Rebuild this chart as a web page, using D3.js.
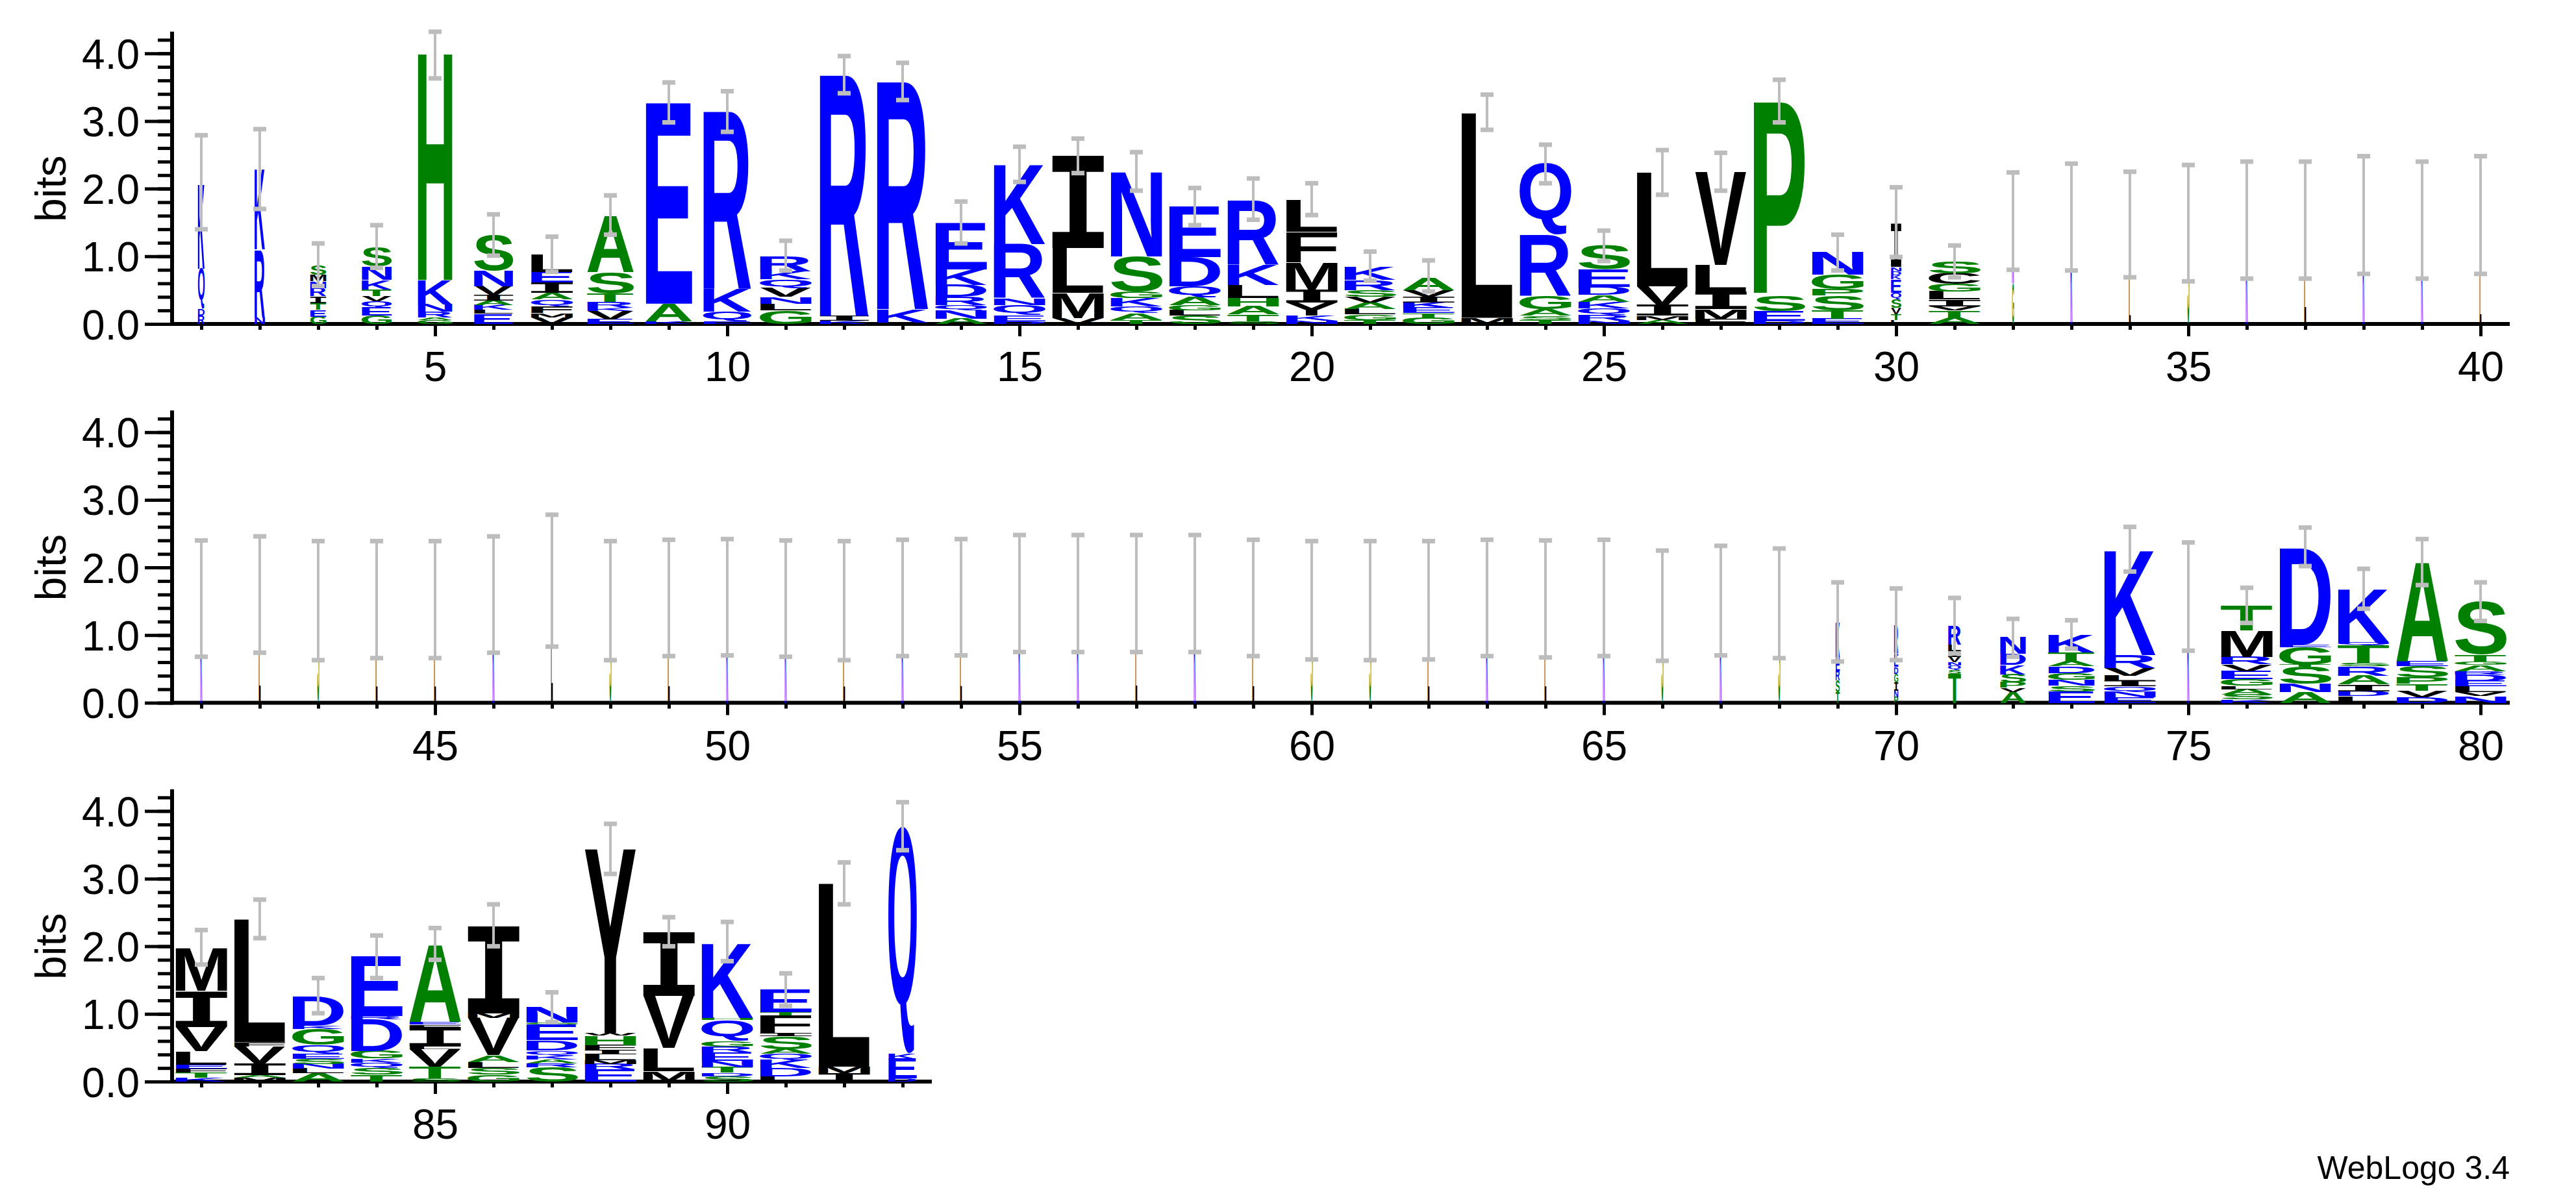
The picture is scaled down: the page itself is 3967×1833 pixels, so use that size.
<!DOCTYPE html>
<html><head><meta charset="utf-8">
<script src="https://cdn.jsdelivr.net/npm/d3@7"></script>
<style>body{margin:0;background:#fff}svg{display:block}</style>
</head><body>
<script>
// ---- data (bottom-to-top letter:bits per position) ----
const positions = d3.range(1, 94);
const stacks = [
"R:0.12 D:0.1 Q:0.6 K:1.26","N:0.1 R:1.0 K:1.2","G:0.11 E:0.1 T:0.1 I:0.1 R:0.12 N:0.1 M:0.1 S:0.14",
"G:0.12 E:0.12 Q:0.1 V:0.07 T:0.1 K:0.14 N:0.2 S:0.29","G:0.06 A:0.04 R:0.08 N:0.11 K:0.36 H:3.39",
"E:0.15 L:0.06 K:0.07 A:0.07 I:0.08 V:0.13 N:0.23 S:0.53","V:0.1 M:0.06 F:0.1 Q:0.1 A:0.1 I:0.15 E:0.16 L:0.26",
"E:0.07 V:0.12 K:0.05 R:0.09 T:0.12 S:0.32 A:0.84","K:0.04 A:0.26 E:2.97","E:0.04 Q:0.14 K:0.34 R:2.62",
"G:0.2 L:0.1 N:0.1 V:0.13 Q:0.13 K:0.12 R:0.22","K:0.05 I:0.07 R:3.56","E:0.02 K:0.2 R:3.36",
"A:0.08 N:0.12 Q:0.08 R:0.12 D:0.18 K:0.23 E:0.69","D:0.04 E:0.09 Q:0.15 N:0.1 R:0.8 K:1.18",
"V:0.09 M:0.37 L:0.66 I:1.36","T:0.06 A:0.1 Q:0.1 K:0.12 G:0.1 S:0.52 N:1.26",
"S:0.12 L:0.08 G:0.08 A:0.12 Q:0.16 D:0.43 E:0.75","S:0.04 T:0.1 A:0.12 H:0.12 L:0.2 K:0.3 R:0.95",
"N:0.05 K:0.07 Y:0.2 I:0.19 M:0.4 F:0.45 L:0.47","T:0.06 G:0.08 L:0.08 A:0.1 V:0.08 S:0.1 R:0.15 K:0.2",
"G:0.1 T:0.06 E:0.08 K:0.08 I:0.08 V:0.1 A:0.19","M:0.09 L:3.03","T:0.06 S:0.06 A:0.1 G:0.2 R:0.9 Q:1.06",
"N:0.05 R:0.08 Q:0.1 K:0.1 A:0.1 D:0.12 E:0.26 S:0.35","A:0.06 M:0.06 I:0.16 V:0.28 L:1.69",
"F:0.07 M:0.15 I:0.26 L:0.39 V:1.38","D:0.05 E:0.14 S:0.23 P:2.86","E:0.08 T:0.12 S:0.22 P:0.1 G:0.21 N:0.34",
"L:0.06 T:0.08 V:0.1 S:0.12 Q:0.1 E:0.2 K:0.06 D:0.06 N:0.06 I:0.64","A:0.1 T:0.1 V:0.06 I:0.1 L:0.12 G:0.11 C:0.16 S:0.18",
"G:0.6 K:0.94","K:1.6","L:0.8 K:0.68","S:1.5","K:1.55","L:1.55","K:1.62","K:1.55","L:0.9 K:0.72",
"K:1.53","L:1.6","S:1.51","L:1.51","L:1.51","K:1.6","L:1.81","S:1.51","L:1.55","K:1.56","K:1.53","L:1.51","K:1.55",
"L:1.56","K:1.61","K:1.61","L:1.61","K:1.61","L:1.55","S:1.52","S:1.51","L:1.52","K:1.55","L:1.53","K:1.55",
"S:1.44","K:1.51","S:1.47",
"T:0.16 S:0.17 R:0.14 E:0.2 K:0.52","P:0.08 N:0.1 I:0.12 G:0.13 D:0.1 E:0.2 R:0.42",
"T:0.43 S:0.06 Q:0.06 N:0.05 V:0.08 I:0.08 L:0.1 R:0.28","A:0.16 V:0.06 P:0.08 S:0.12 K:0.14 D:0.16 N:0.25",
"E:0.17 S:0.08 N:0.09 G:0.1 D:0.1 A:0.07 T:0.13 K:0.26","E:0.08 N:0.08 Q:0.08 I:0.08 L:0.08 V:0.11 R:0.2 K:1.56",
"K:1.5 S:0.13","K:0.05 S:0.07 A:0.08 L:0.05 G:0.1 E:0.12 V:0.1 R:0.11 M:0.39 T:0.37",
"A:0.16 N:0.12 S:0.25 T:0.03 G:0.26 E:0.04 D:1.43","L:0.1 D:0.07 I:0.1 A:0.13 R:0.14 S:0.05 T:0.26 Q:0.04 K:0.8",
"D:0.08 V:0.1 T:0.1 P:0.1 S:0.16 E:0.07 A:1.47","N:0.1 V:0.06 L:0.08 E:0.08 D:0.1 R:0.05 A:0.09 G:0.05 T:0.1 S:0.78",
"K:0.06 T:0.07 F:0.06 E:0.06 L:0.2 V:0.36 I:0.53 M:0.64","M:0.06 A:0.04 I:0.17 V:0.25 F:0.06 L:1.82",
"A:0.12 L:0.07 N:0.07 S:0.08 E:0.07 Q:0.13 G:0.24 K:0.05 D:0.43","T:0.1 S:0.1 Q:0.08 K:0.06 G:0.11 D:0.47 R:0.05 E:0.88",
"S:0.05 T:0.17 V:0.26 L:0.04 I:0.28 F:0.04 E:0.04 A:1.15","G:0.1 S:0.1 L:0.09 A:0.1 V:0.55 M:0.07 I:1.29",
"S:0.21 R:0.06 A:0.06 K:0.06 Q:0.07 D:0.15 E:0.23 G:0.03 N:0.23","E:0.18 R:0.08 M:0.06 L:0.08 I:0.06 F:0.08 H:0.14 W:0.04 Y:2.72",
"M:0.15 L:0.33 F:0.02 V:0.77 I:0.94","S:0.08 D:0.05 T:0.08 N:0.1 E:0.12 R:0.09 G:0.08 Q:0.31 H:0.03 K:1.11",
"L:0.08 D:0.12 K:0.12 Q:0.09 A:0.07 S:0.19 I:0.05 F:0.26 T:0.05 E:0.33","I:0.12 M:0.1 L:2.71","D:0.05 E:0.29 K:0.07 Q:3.36"
];
const widths = [0.13,0.2,0.31,0.58,0.67,0.76,0.81,0.9,0.9,0.93,1,0.95,1,1,1,1,1,1,1,1,1,1,1,1,1,1,1,1,1,0.2,1,
 0.035,0.035,0.035,0.035,0.035,0.035,0.035,0.035,0.035,0.035,0.035,0.035,0.035,0.035,0.035,0.035,0.035,0.035,0.035,0.035,
 0.035,0.035,0.035,0.035,0.035,0.035,0.035,0.035,0.035,0.035,0.035,0.035,0.035,0.035,0.035,0.035,0.035,
 0.08,0.08,0.25,0.5,0.9,1,0.035,1,1,1,1,1,1,1,1,1,1,1,1,1,1,1,1,1,0.55];
const errLow = [1.40,1.70,0.56,0.83,3.63,1.01,0.77,1.32,2.98,2.84,0.79,3.41,3.31,1.19,2.1,2.23,1.97,1.46,1.54,1.61,0.64,0.48,2.87,2.08,0.93,1.91,1.97,2.98,0.79,0.99,0.69,
 0.8,0.79,0.69,0.63,0.67,0.67,0.74,0.67,0.74,0.68,0.74,0.63,0.66,0.66,0.74,0.83,0.63,0.69,0.7,0.68,0.63,0.69,0.7,0.75,0.75,0.75,0.75,0.69,0.64,0.63,0.64,0.69,0.67,0.69,0.62,0.7,0.66,
 0.61,0.63,0.73,0.68,0.8,1.94,0.77,1.18,2.02,1.39,1.74,1.21,1.73,2.12,1.01,1.53,1.8,2.0,0.88,3.07,2.0,1.78,1.12,2.62,3.42];
const errHigh = [2.79,2.88,1.19,1.46,4.32,1.62,1.29,1.9,3.57,3.44,1.23,3.96,3.86,1.81,2.62,2.74,2.54,2.01,2.15,2.08,1.07,0.94,3.39,2.65,1.38,2.57,2.53,3.61,1.32,2.02,1.16,
 2.24,2.37,2.25,2.35,2.4,2.4,2.48,2.4,2.48,2.4,2.46,2.39,2.39,2.39,2.46,2.78,2.39,2.41,2.42,2.4,2.39,2.41,2.42,2.48,2.48,2.48,2.48,2.41,2.39,2.39,2.39,2.41,2.4,2.41,2.25,2.32,2.28,
 1.78,1.69,1.55,1.24,1.22,2.6,2.37,1.7,2.59,1.98,2.42,1.78,2.24,2.69,1.53,2.16,2.27,2.62,1.32,3.81,2.43,2.36,1.6,3.24,4.13];
const yTickLabels = ["0.0","1.0","2.0","3.0","4.0"];
const footer = "WebLogo 3.4";
const colorGroups = {green:"AGSTPH", blue:"KRDENQ"};

const W=3967,H=1833, perRow=40, colW=90, x0=265, rowZero=[499,1082.5,1666], bitPx=104.2, fullW=80;
const svg=d3.select("body").append("svg").attr("width",W).attr("height",H);
svg.append("rect").attr("width",W).attr("height",H).attr("fill","#fff");
const colorOf=c=>colorGroups.green.includes(c)?"#008000":colorGroups.blue.includes(c)?"#0000ff":"#000000";
const SANS="'Liberation Sans', Arial, sans-serif", MONO="'DejaVu Sans Mono', monospace";
const fontOf=c=>c==="I"?MONO:SANS;

const cvs=document.createElement("canvas").getContext("2d");
const metrics={};
function m(c){ if(!metrics[c]){cvs.font="bold 100px "+fontOf(c);const t=cvs.measureText(c);metrics[c]={l:t.actualBoundingBoxLeft,r:t.actualBoundingBoxRight,a:t.actualBoundingBoxAscent,d:t.actualBoundingBoxDescent};} return metrics[c]; }

for(let r=0;r<3;r++){
  const first=r*perRow+1, last=Math.min(first+perRow-1,93);
  const x=d3.scaleLinear().domain([first-0.5,first-0.5+perRow]).range([x0,x0+perRow*colW]);
  const y=d3.scaleLinear().domain([0,4]).range([rowZero[r],rowZero[r]-4*bitPx]);
  const g=svg.append("g");
  const yMaj=d3.axisLeft(y).tickValues([0,1,2,3,4]).tickFormat((d,i)=>yTickLabels[i]).tickSize(42).tickPadding(8);
  const ya=g.append("g").attr("transform",`translate(${x0},0)`).call(yMaj);
  ya.select(".domain").remove();
  ya.selectAll("line").attr("stroke","#000").attr("stroke-width",5);
  ya.selectAll("text").attr("font-family",SANS).attr("font-size",64).attr("fill","#000").attr("dy","0.36em");
  const yMin=d3.axisLeft(y).tickValues(d3.range(0,4.3,0.2)).tickFormat("").tickSize(22);
  const ym=g.append("g").attr("transform",`translate(${x0},0)`).call(yMin);
  ym.select(".domain").remove();
  ym.selectAll("line").attr("stroke","#000").attr("stroke-width",5);
  g.append("line").attr("x1",x0).attr("x2",x0).attr("y1",y(0)+3).attr("y2",y(4.32)).attr("stroke","#000").attr("stroke-width",6);
  g.append("text").attr("transform",`translate(78,${y(2)}) rotate(-90)`).attr("text-anchor","middle").attr("dy","0.35em")
    .attr("font-family",SANS).attr("font-size",66).text("bits");
  const xa=d3.axisBottom(x).tickValues(d3.range(first,last+1)).tickFormat(d=>d%5===0?d:"").tickSize(9).tickPadding(34);
  const xg=g.append("g").attr("transform",`translate(0,${y(0)})`).call(xa);
  xg.select(".domain").remove();
  xg.selectAll(".tick line").attr("stroke","#000").attr("stroke-width",5).attr("y2",d=>d%5===0?19:9);
  xg.selectAll("text").attr("font-family",SANS).attr("font-size",64).attr("fill","#000");
  g.append("line").attr("x1",x0).attr("x2",x(last+0.5)).attr("y1",y(0)).attr("y2",y(0)).attr("stroke","#000").attr("stroke-width",6);

  for(let p=first;p<=last;p++){
    const i=p-1, w=fullW*widths[i], left=x(p)-w/2;
    let cum=0;
    stacks[i].split(" ").forEach(tok=>{
      const [c,v]=tok.split(":"); const h=+v;
      const yb=y(cum), yt=y(cum+h); cum+=h;
      const hh=yb-yt; if(hh<3) return;
      const mm=m(c), sx=w/(mm.l+mm.r), sy=hh/(mm.a+mm.d);
      g.append("text").attr("font-family",fontOf(c)).attr("font-weight","bold").attr("font-size",100)
        .attr("fill",colorOf(c))
        .attr("transform",`translate(${left+mm.l*sx},${yb-mm.d*sy}) scale(${sx},${sy})`).text(c);
    });
    const ex=x(p);
    g.append("line").attr("x1",ex).attr("x2",ex).attr("y1",y(errLow[i])).attr("y2",y(errHigh[i])).attr("stroke","#bdbdbd").attr("stroke-width",4);
    [errLow[i],errHigh[i]].forEach(v=>g.append("rect").attr("x",ex-10).attr("y",y(v)-3.5).attr("width",20).attr("height",7).attr("fill","#bdbdbd"));
  }
}
svg.append("text").attr("x",3865).attr("y",1816).attr("text-anchor","end").attr("font-family",SANS).attr("font-size",50).text(footer);
</script>
</body></html>
